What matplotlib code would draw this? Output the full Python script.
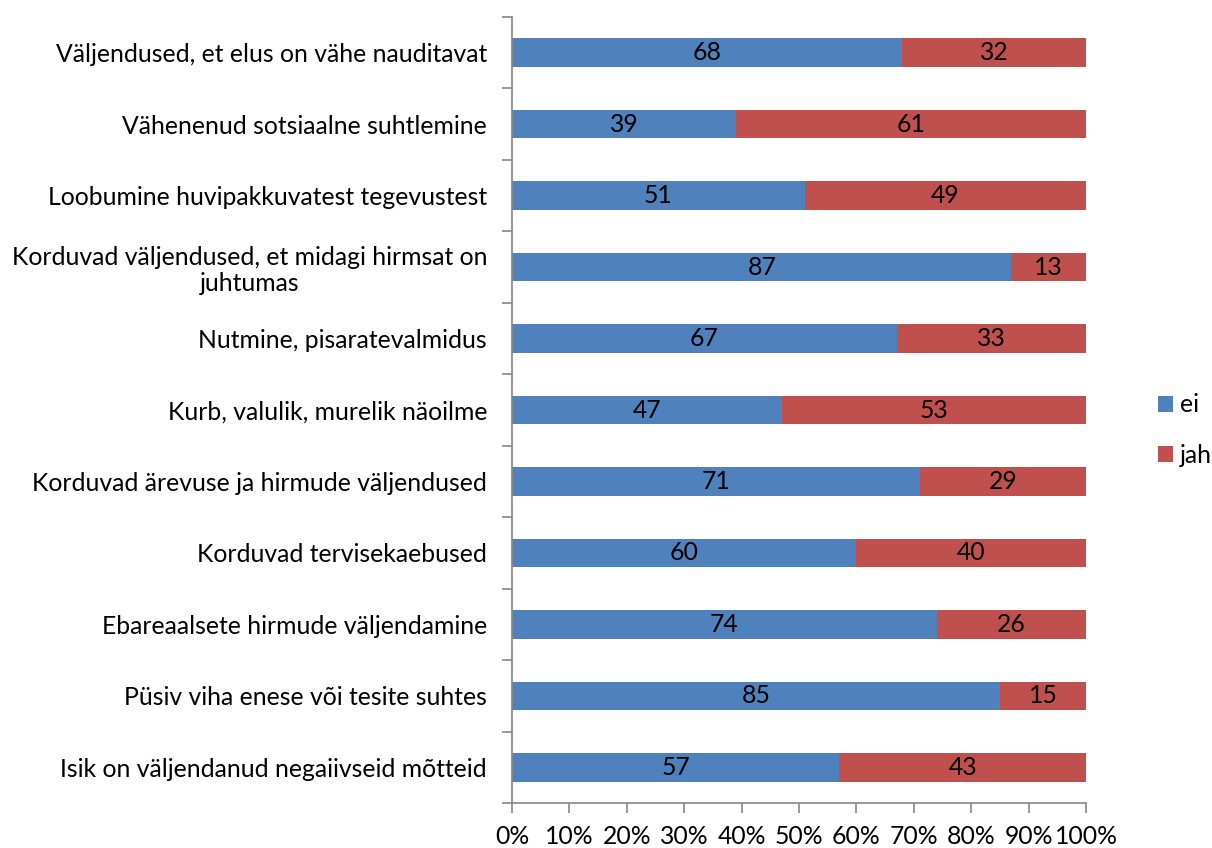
import matplotlib
matplotlib.use("Agg")
import matplotlib.pyplot as plt
import numpy as np
from matplotlib.ticker import FixedLocator, PercentFormatter

plt.rcParams['font.family'] = ['Lato', 'DejaVu Sans']

categories = [
    "Väljendused, et elus on vähe nauditavat",
    "Vähenenud sotsiaalne suhtlemine",
    "Loobumine huvipakkuvatest tegevustest",
    "Korduvad väljendused, et midagi hirmsat on\njuhtumas",
    "Nutmine, pisaratevalmidus",
    "Kurb, valulik, murelik näoilme",
    "Korduvad ärevuse ja hirmude väljendused",
    "Korduvad tervisekaebused",
    "Ebareaalsete hirmude väljendamine",
    "Püsiv viha enese või tesite suhtes",
    "Isik on väljendanud negaiivseid mõtteid",
]
ei = [68, 39, 51, 87, 67, 47, 71, 60, 74, 85, 57]
jah = [32, 61, 49, 13, 33, 53, 29, 40, 26, 15, 43]
series_names = ["ei", "jah"]
colors = ["#4F81BD", "#C0504D"]

fig = plt.figure(figsize=(12.12, 8.48), dpi=100)
ax = fig.add_axes([512/1212, 1-803/848, (1086-512)/1212, (803-17)/848])

y = np.arange(len(categories))
ei_a = np.array(ei)
jah_a = np.array(jah)
tot = ei_a + jah_a
ei_p = ei_a / tot * 100
jah_p = jah_a / tot * 100

b1 = ax.barh(y, ei_p, height=0.4, color=colors[0], label=series_names[0])
b2 = ax.barh(y, jah_p, left=ei_p, height=0.4, color=colors[1], label=series_names[1])

fs = 17.8
for i in range(len(y)):
    ax.text(ei_p[i]/2, y[i], str(ei[i]), ha='center', va='center', fontsize=fs, color='black')
    ax.text(ei_p[i] + jah_p[i]/2, y[i], str(jah[i]), ha='center', va='center', fontsize=fs, color='black')

ax.set_xlim(0, 100)
ax.set_ylim(len(categories)-0.5, -0.5)

ax.set_yticks(y)
ax.set_yticklabels(categories, fontsize=fs, multialignment='center', linespacing=1.15)
ax.tick_params(axis='y', which='major', length=0, pad=18)
ax.yaxis.set_minor_locator(FixedLocator(np.arange(-0.5, len(categories), 1.0)))
ax.tick_params(axis='y', which='minor', length=7, width=1.2, color='#868686', direction='out')

ax.set_xticks(np.arange(0, 101, 10))
ax.xaxis.set_major_formatter(PercentFormatter(decimals=0))
ax.tick_params(axis='x', which='major', length=7, width=1.2, color='#868686', pad=9, labelsize=fs)

for s in ['top', 'right']:
    ax.spines[s].set_visible(False)
for s in ['left', 'bottom']:
    ax.spines[s].set_color('#868686')
    ax.spines[s].set_linewidth(1.2)

leg = fig.legend(handles=[b1, b2], labels=series_names, loc='center left',
                 bbox_to_anchor=(1158/1212, 1-430/848), frameon=False,
                 borderpad=0, borderaxespad=0,
                 fontsize=fs, handlelength=0.6, handleheight=0.6, handletextpad=0.3,
                 labelspacing=1.1)

fig.savefig("out.png", dpi=100)
